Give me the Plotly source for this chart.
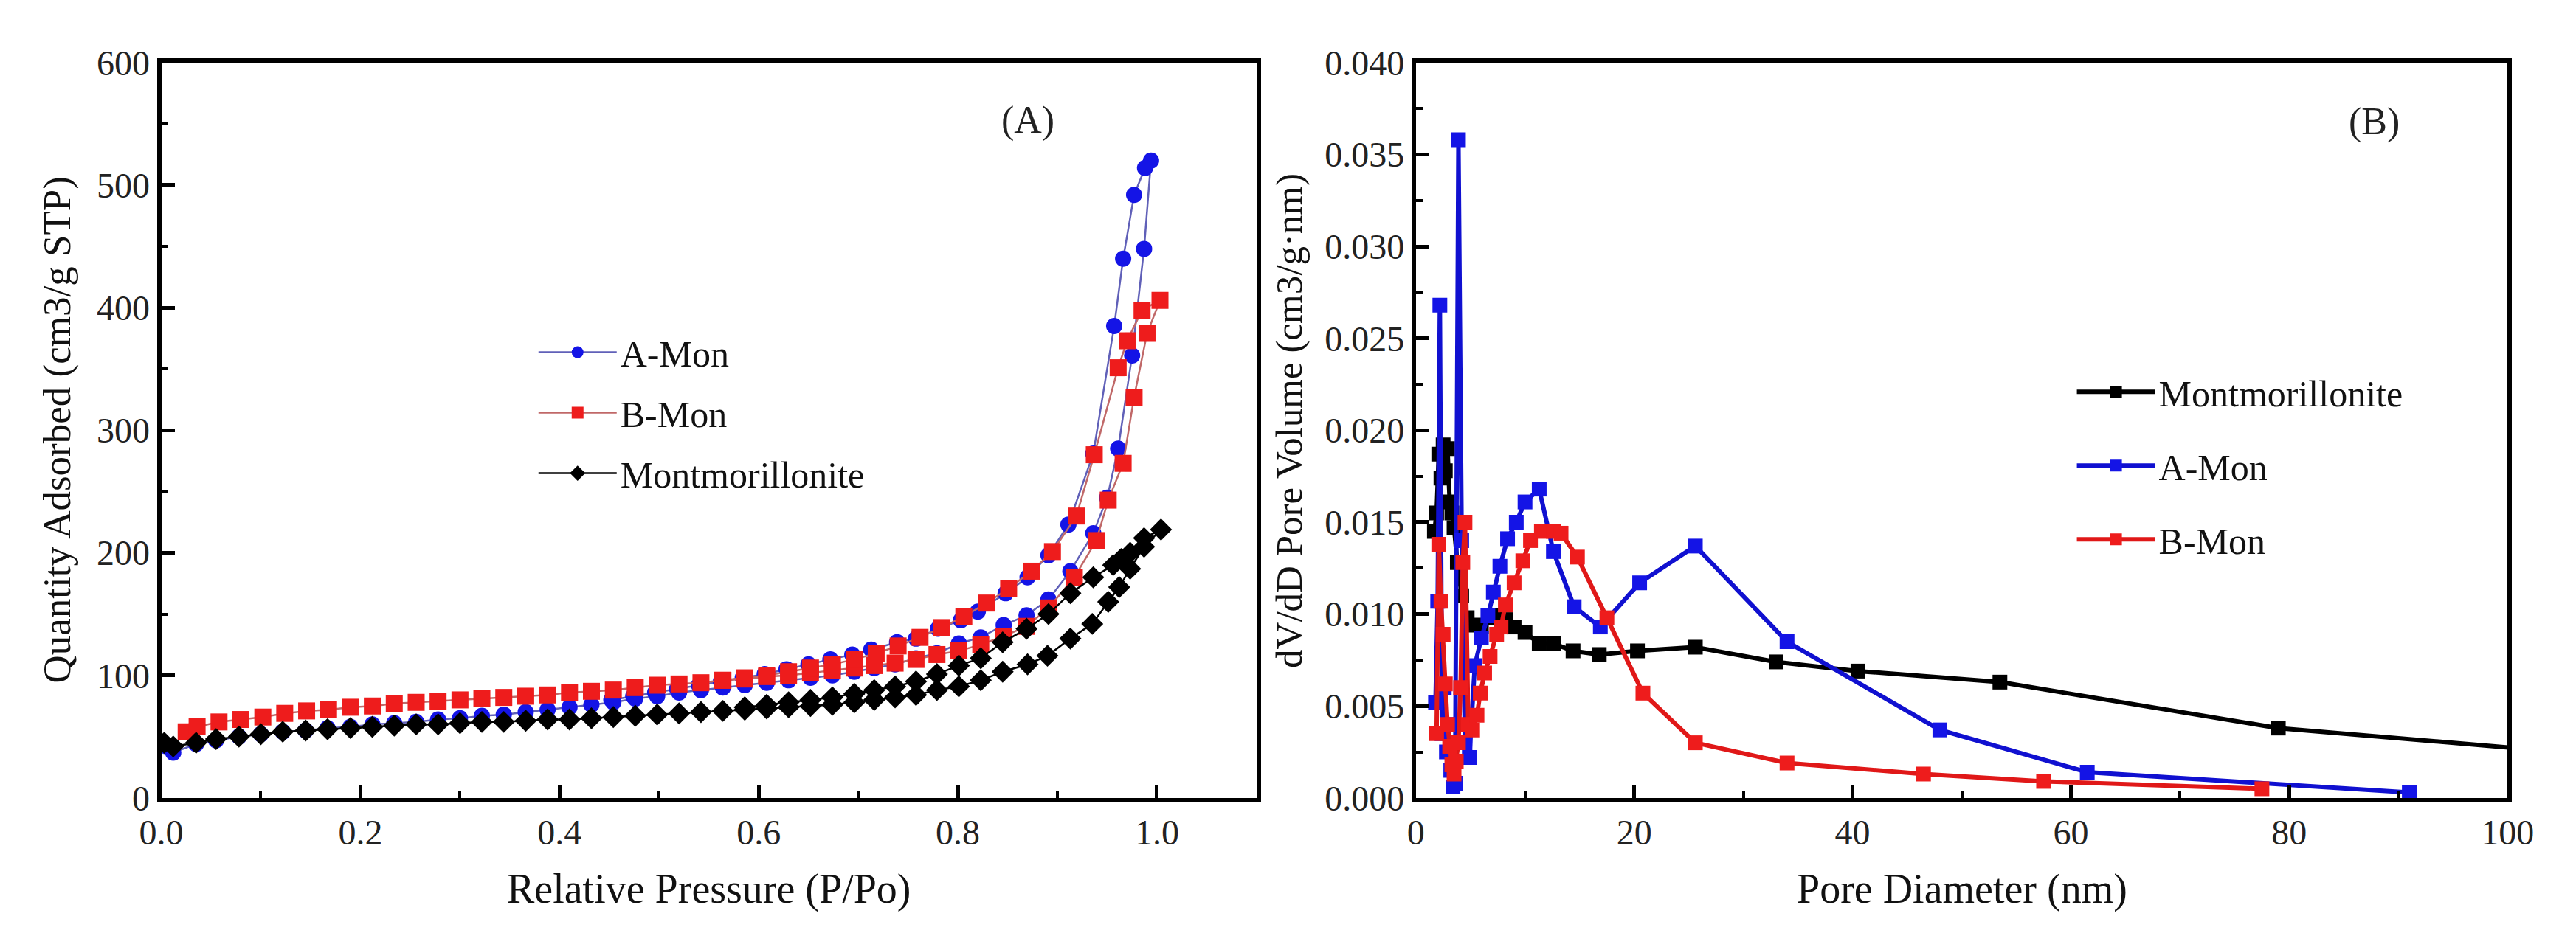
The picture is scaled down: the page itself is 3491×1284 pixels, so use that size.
import plotly.graph_objects as go

# ---------------- Panel (A): N2 adsorption-desorption isotherms ----------------
amon_p = [0.005, 0.012, 0.035, 0.055, 0.078, 0.100, 0.122, 0.145, 0.167, 0.190, 0.212, 0.234,
          0.256, 0.278, 0.300, 0.322, 0.344, 0.366, 0.388, 0.410, 0.432, 0.454, 0.476, 0.498,
          0.520, 0.542, 0.564, 0.586, 0.608, 0.630, 0.652, 0.674, 0.696, 0.716, 0.737, 0.758,
          0.779, 0.801, 0.823, 0.846, 0.869, 0.891, 0.913, 0.936, 0.950, 0.961, 0.975, 0.987,
          0.994,
          0.988, 0.977, 0.966, 0.957, 0.936, 0.911, 0.891, 0.870, 0.848, 0.820, 0.803, 0.780,
          0.758, 0.739, 0.713, 0.694, 0.672, 0.650, 0.628, 0.606, 0.584, 0.562, 0.540, 0.518,
          0.496, 0.474, 0.452]
amon_q = [42, 37, 44, 47, 50, 52, 54, 55, 57, 58, 60, 61,
          62, 64, 65, 67, 68, 70, 72, 74, 76, 78, 81, 83,
          86, 88, 90, 92, 94, 96, 98, 100, 103, 106, 109, 114,
          118, 126, 131, 141, 149, 162, 185, 216, 245, 285, 361, 448,
          520,
          514, 492, 440, 385, 281, 223, 198, 180, 167, 152, 145, 138,
          130, 127, 121, 117, 113, 109, 105, 101, 98, 95, 92, 89,
          86, 83, 80]

bmon_p = [0.025, 0.036, 0.058, 0.080, 0.102, 0.124, 0.146, 0.168, 0.190, 0.212, 0.234, 0.256,
          0.278, 0.300, 0.322, 0.344, 0.366, 0.388, 0.410, 0.432, 0.454, 0.476, 0.498, 0.520,
          0.542, 0.564, 0.586, 0.608, 0.630, 0.652, 0.674, 0.696, 0.716, 0.737, 0.758, 0.779,
          0.801, 0.823, 0.846, 0.869, 0.891, 0.917, 0.939, 0.951, 0.966, 0.977, 0.990, 1.003,
          0.985, 0.970, 0.961, 0.937, 0.919, 0.895, 0.874, 0.851, 0.829, 0.806, 0.784, 0.762,
          0.740, 0.718, 0.696, 0.674, 0.652, 0.630, 0.608, 0.586, 0.564]
bmon_q = [54, 58, 62, 64, 66, 69, 71, 72, 74, 75, 77, 78,
          79, 80, 81, 82, 83, 84, 86, 87, 88, 90, 92, 93,
          94, 96, 97, 99, 100, 102, 104, 106, 108, 110, 113, 117,
          120, 125, 132, 140, 155, 180, 210, 243, 273, 327, 379, 406,
          398, 373, 351, 280, 230, 201, 185, 171, 159, 148, 139, 131,
          124, 118, 113, 109, 106, 103, 100, 98, 96]

mont_p = [0.003, 0.012, 0.035, 0.055, 0.078, 0.100, 0.122, 0.145, 0.167, 0.190, 0.212, 0.234,
          0.256, 0.278, 0.300, 0.322, 0.344, 0.366, 0.388, 0.410, 0.432, 0.454, 0.476, 0.498,
          0.520, 0.542, 0.564, 0.586, 0.608, 0.630, 0.652, 0.674, 0.696, 0.716, 0.737, 0.758,
          0.779, 0.801, 0.823, 0.845, 0.870, 0.890, 0.913, 0.935, 0.951, 0.962, 0.973, 0.987,
          1.004,
          0.987, 0.973, 0.964, 0.956, 0.936, 0.913, 0.891, 0.869, 0.845, 0.823, 0.801, 0.779,
          0.758, 0.737, 0.716, 0.696, 0.674, 0.652, 0.630, 0.608, 0.586]
mont_q = [45, 42, 45, 48, 50, 52, 54, 55, 56, 57, 58, 59,
          60, 60, 61, 62, 62, 63, 64, 64, 65, 66, 67, 68,
          69, 70, 71, 72, 73, 74, 75, 76, 78, 80, 82, 84,
          88, 91, 96, 103, 109, 116, 130, 142, 160, 172, 187, 205,
          219,
          212, 200, 195, 190, 180, 167, 150, 138, 127, 114, 108, 101,
          95, 91, 88, 85, 82, 80, 78, 76, 74]

# ---------------- Panel (B): BJH pore size distributions ----------------
mont_d = [1.7, 1.9, 2.1, 2.3, 2.5, 2.7, 2.9, 3.1, 3.3, 3.5, 3.8, 4.2, 4.7, 5.4, 6.0, 6.7,
          7.5, 8.2, 9.0, 10.0, 11.3, 12.6, 14.4, 16.8, 20.3, 25.6, 33.0, 40.5, 53.5, 79.0, 115.0]
mont_v = [0.0145, 0.0155, 0.0187, 0.0174, 0.0192, 0.0178, 0.0190, 0.0161, 0.0155, 0.0147,
          0.0128, 0.0110, 0.0098, 0.0094, 0.0093, 0.0098, 0.0099, 0.0097, 0.0093, 0.0090,
          0.0084, 0.0084, 0.0080, 0.0078, 0.0080, 0.0082, 0.0074, 0.0069, 0.0063, 0.0038, 0.0020]

amon_d = [1.8, 2.0, 2.2, 2.4, 2.6, 2.8, 3.0, 3.2, 3.4, 3.6, 3.9, 4.2, 4.5, 4.9, 5.4, 6.0,
          6.6, 7.1, 7.7, 8.4, 9.2, 10.0, 11.3, 12.6, 14.5, 16.9, 20.5, 25.6, 34.0, 48.0, 61.5, 91.0]
amon_v = [0.0052, 0.0107, 0.0268, 0.0035, 0.0060, 0.0025, 0.0040, 0.0015, 0.0006, 0.0008,
          0.0358, 0.0140, 0.0030, 0.0022, 0.0072, 0.0087, 0.0099, 0.0112, 0.0126, 0.0141,
          0.0150, 0.0161, 0.0168, 0.0134, 0.0104, 0.0093, 0.0117, 0.0137, 0.0085, 0.0037,
          0.0014, 0.0003]

bmon_d = [1.9, 2.1, 2.3, 2.5, 2.7, 2.9, 3.1, 3.3, 3.5, 3.7, 3.9, 4.1, 4.3, 4.5, 4.8, 5.2,
          5.6, 5.9, 6.3, 6.8, 7.4, 7.8, 8.2, 9.0, 9.8, 10.5, 11.5, 12.6, 13.3, 14.8, 17.5,
          20.8, 25.6, 34.0, 46.5, 57.5, 77.5]
bmon_v = [0.0035, 0.0138, 0.0107, 0.0089, 0.0062, 0.0040, 0.0028, 0.0018, 0.0013, 0.0020,
          0.0030, 0.0060, 0.0128, 0.0150, 0.0040, 0.0037, 0.0045, 0.0057, 0.0068, 0.0077,
          0.0089, 0.0093, 0.0105, 0.0117, 0.0129, 0.0140, 0.0145, 0.0145, 0.0144, 0.0131,
          0.0098, 0.0057, 0.0030, 0.0019, 0.0013, 0.0009, 0.0005]

FONT = "Liberation Serif, Times New Roman, serif"
BLUE = "#1414e6"
RED = "#ee1c1c"
BLACK = "#000000"

fig = go.Figure()

# Panel A traces
fig.add_trace(go.Scatter(x=amon_p, y=amon_q, mode="lines+markers", name="A-Mon",
                         legend="legend", legendgroup="a1",
                         line=dict(color="#6060b8", width=2.5),
                         marker=dict(symbol="circle", size=22, color=BLUE),
                         xaxis="x", yaxis="y"))
fig.add_trace(go.Scatter(x=bmon_p, y=bmon_q, mode="lines+markers", name="B-Mon",
                         legend="legend", legendgroup="a2",
                         line=dict(color="#c06868", width=2.5),
                         marker=dict(symbol="square", size=23, color=RED),
                         xaxis="x", yaxis="y"))
fig.add_trace(go.Scatter(x=mont_p, y=mont_q, mode="lines+markers", name="Montmorillonite",
                         legend="legend", legendgroup="a3",
                         line=dict(color=BLACK, width=2.5),
                         marker=dict(symbol="diamond", size=23, color=BLACK),
                         xaxis="x", yaxis="y"))

# Panel B traces
fig.add_trace(go.Scatter(x=mont_d, y=mont_v, mode="lines+markers", name="Montmorillonite",
                         legend="legend2", legendgroup="b1",
                         line=dict(color=BLACK, width=6),
                         marker=dict(symbol="square", size=20, color=BLACK),
                         xaxis="x2", yaxis="y2"))
fig.add_trace(go.Scatter(x=amon_d, y=amon_v, mode="lines+markers", name="A-Mon",
                         legend="legend2", legendgroup="b2",
                         line=dict(color="#1010d0", width=6),
                         marker=dict(symbol="square", size=20, color=BLUE),
                         xaxis="x2", yaxis="y2"))
fig.add_trace(go.Scatter(x=bmon_d, y=bmon_v, mode="lines+markers", name="B-Mon",
                         legend="legend2", legendgroup="b3",
                         line=dict(color="#e01818", width=6),
                         marker=dict(symbol="square", size=20, color=RED),
                         xaxis="x2", yaxis="y2"))

W, H = 3491, 1284
axis_common = dict(showline=True, linecolor="black", linewidth=6, mirror=True,
                   ticks="inside", ticklen=18, tickwidth=5, tickcolor="black",
                   showgrid=False, zeroline=False,
                   tickfont=dict(family=FONT, size=48, color="#222"))

ydom = [1 - 1093 / H, 1 - 53 / H]

fig.update_layout(
    width=W, height=H,
    margin=dict(l=0, r=0, t=0, b=0),
    paper_bgcolor="white", plot_bgcolor="white",
    font=dict(family=FONT, color="#111"),
    xaxis=dict(domain=[184 / W, 1697 / W], range=[0, 1.1], dtick=0.2, tick0=0,
               tickformat=".1f", anchor="y",
               minor=dict(ticks="inside", ticklen=9, tickwidth=4, dtick=0.1, tickcolor="black"),
               **axis_common),
    yaxis=dict(domain=ydom, range=[0, 600], dtick=100, anchor="x",
               minor=dict(ticks="inside", ticklen=9, tickwidth=4, dtick=50, tickcolor="black"),
               **axis_common),
    xaxis2=dict(domain=[1917 / W, 3425 / W], range=[0, 100], dtick=20, anchor="y2",
                minor=dict(ticks="inside", ticklen=9, tickwidth=4, dtick=10, tickcolor="black"),
                **axis_common),
    yaxis2=dict(domain=ydom, range=[0, 0.040], dtick=0.005, tickformat=".3f", anchor="x2",
                minor=dict(ticks="inside", ticklen=9, tickwidth=4, dtick=0.0025, tickcolor="black"),
                **axis_common),
    legend=dict(x=700 / W, y=1 - 422 / H, xanchor="left", yanchor="top",
                bgcolor="rgba(0,0,0,0)", font=dict(family=FONT, size=50, color="#111"),
                tracegroupgap=14, itemsizing="trace", itemwidth=106),
    legend2=dict(x=2825 / W, y=1 - 478 / H, xanchor="left", yanchor="top",
                 bgcolor="rgba(0,0,0,0)", font=dict(family=FONT, size=50, color="#111"),
                 tracegroupgap=32, itemsizing="trace", itemwidth=106),
    showlegend=True,
)

def label(text, x, y, size, angle=0):
    return dict(text=text, x=x / W, y=1 - y / H, xref="paper", yref="paper",
                xanchor="center", yanchor="middle", showarrow=False, textangle=angle,
                font=dict(family=FONT, size=size, color="#111"))

annotations = [
    dict(text="(A)", x=0.87, y=553, xref="x", yref="y", xanchor="center", yanchor="middle",
         showarrow=False, font=dict(family=FONT, size=52, color="#222")),
    dict(text="(B)", x=87.8, y=0.0368, xref="x2", yref="y2", xanchor="center", yanchor="middle",
         showarrow=False, font=dict(family=FONT, size=52, color="#222")),
    label("Relative Pressure (P/Po)", 940, 1222, 56),
    label("Pore Diameter (nm)", 2672, 1222, 56),
    label("Quantity Adsorbed (cm3/g STP)", 40, 573, 53, -90),
    label("dV/dD Pore Volume (cm3/g·nm)", 1742, 560, 51, -90),
]
fig.update_layout(annotations=annotations)

fig.write_html("out.html")
